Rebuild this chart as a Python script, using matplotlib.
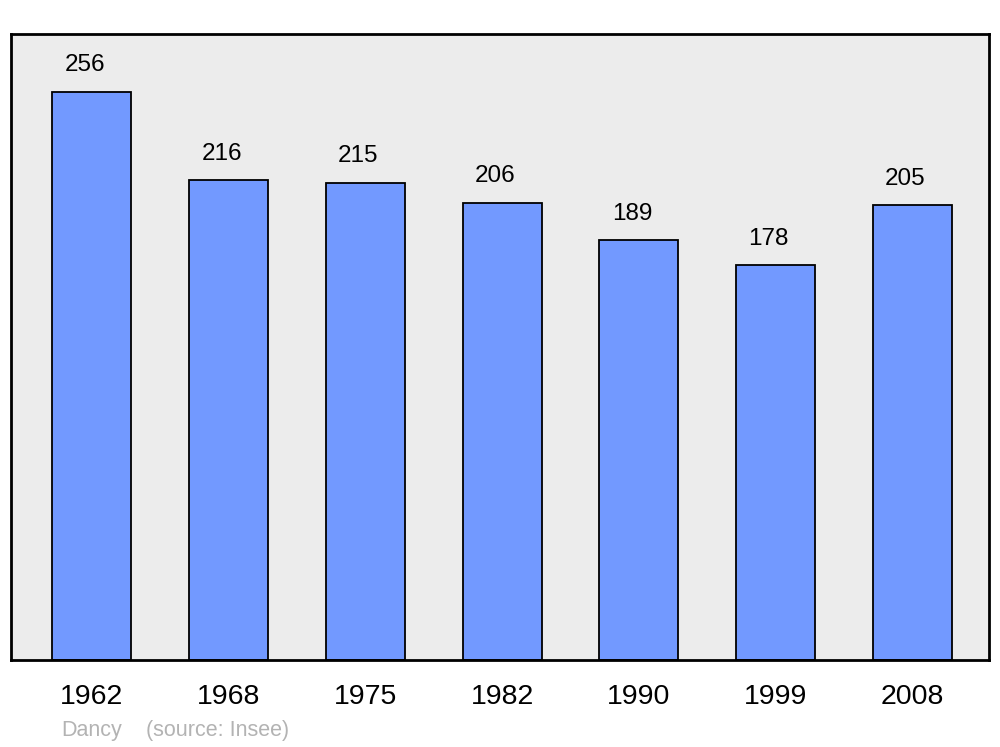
import matplotlib
matplotlib.use("Agg")
from matplotlib import pyplot as plt
import numpy as np

plt.rcParams['font.family'] = ['Liberation Sans', 'DejaVu Sans']

years = ['1962', '1968', '1975', '1982', '1990', '1999', '2008']
population = [256, 216, 215, 206, 189, 178, 205]

f = plt.figure(figsize=(10, 7.47), dpi=100)
ax = f.add_axes([0.011, 0.1165, 0.978, 0.838])
ax.set_facecolor('#ececec')

x = np.arange(len(years))
ax.bar(x, population, width=0.578, color='#7299ff', edgecolor='black', linewidth=1.3, zorder=2)

for xi, v in zip(x, population):
    ax.annotate(str(v), (xi, v), xytext=(-5, 11), textcoords='offset points',
                ha='center', va='bottom', fontsize=17.5)

ax.set_xlim(-0.592, 6.56)
ax.set_ylim(0, 282)
ax.set_xticks(x)
ax.set_xticklabels(years, fontsize=20.5)
ax.tick_params(axis='x', length=0, pad=17)
ax.set_yticks([])
for s in ax.spines.values():
    s.set_linewidth(2)

f.text(0.061, 0.022, 'Dancy', color='#b3b3b3', fontsize=15.5, va='center')
f.text(0.146, 0.022, '(source: Insee)', color='#b3b3b3', fontsize=15.5, va='center')

f.savefig('out.png', dpi=100)
